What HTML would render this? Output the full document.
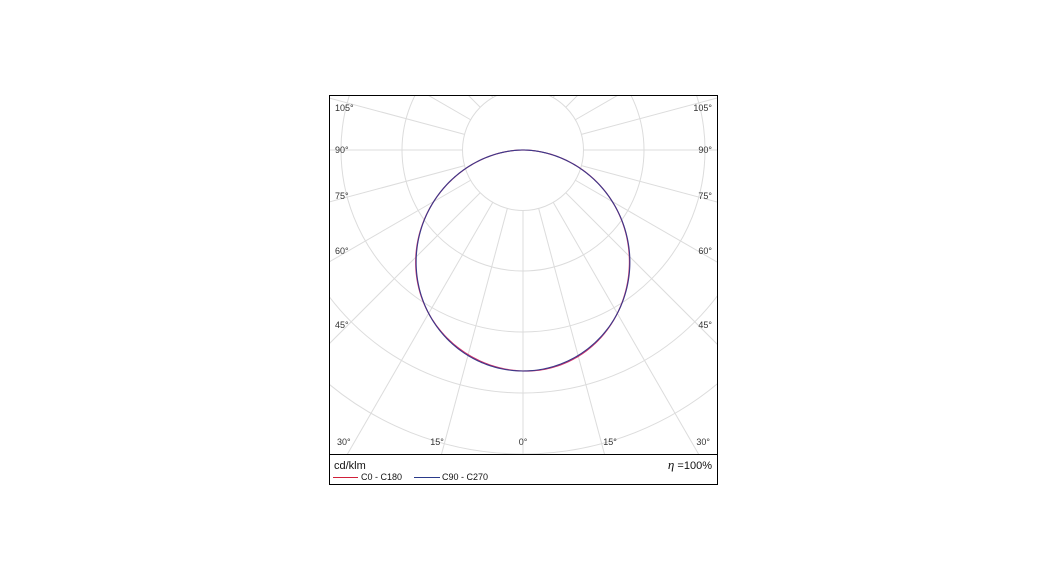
<!DOCTYPE html>
<html style="overflow:hidden"><head><style>
html,body{margin:0;background:#fff;width:1055px;height:588px;overflow:hidden;font-family:"Liberation Sans",sans-serif}
svg{display:block}
</style></head><body>
<svg width="1055" height="588" style="position:absolute;left:0;top:0" font-family="Liberation Sans, sans-serif">
<defs><clipPath id="c"><rect x="330" y="96" width="388" height="358"/></clipPath></defs>
<g clip-path="url(#c)" stroke="#dcdcdc" fill="none" stroke-width="1">
<circle cx="523" cy="150" r="60.5"/>
<circle cx="523" cy="150" r="121"/>
<circle cx="523" cy="150" r="182"/>
<circle cx="523" cy="150" r="243"/>
<circle cx="523" cy="150" r="304"/>
<circle cx="523" cy="150" r="365"/>
<g id="rays"></g>
</g>
<g id="lbl" font-size="9" fill="#333"></g>
<path id="cv1" fill="none" stroke="#d0306a" stroke-width="1.2" clip-path="url(#c)"/>
<path id="cv2" fill="none" stroke="#3a3a8a" stroke-width="1.1" clip-path="url(#c)"/>
<rect x="329.5" y="95.5" width="388" height="389" fill="none" stroke="#000"/>
<line x1="329" y1="454.5" x2="718" y2="454.5" stroke="#000"/>
<text x="334" y="469" font-size="11" fill="#111">cd/klm</text>
<line x1="333" y1="477.5" x2="358" y2="477.5" stroke="#d0203a"/>
<text x="361" y="480" font-size="9" fill="#111">C0 - C180</text>
<line x1="414" y1="477.5" x2="440" y2="477.5" stroke="#2a3a8a"/>
<text x="442" y="480" font-size="9" fill="#111">C90 - C270</text>
<text x="712" y="469" font-size="11" fill="#111" text-anchor="end"><tspan font-style="italic" font-family="Liberation Serif, serif" font-size="13">η</tspan> =100%</text>
</svg>
<script>
var ns="http://www.w3.org/2000/svg",cx=523,cy=150;
var rays=document.getElementById('rays');
for(var a=-180;a<180;a+=15){var t=a*Math.PI/180;var l=document.createElementNS(ns,'line');
l.setAttribute('x1',cx+60.5*Math.sin(t));l.setAttribute('y1',cy+60.5*Math.cos(t));
l.setAttribute('x2',cx+600*Math.sin(t));l.setAttribute('y2',cy+600*Math.cos(t));rays.appendChild(l);}
var L=[["105°",108],["90°",150],["75°",196],["60°",251],["45°",325]];
var g=document.getElementById('lbl');
function tx(s,x,y,an){var e=document.createElementNS(ns,'text');e.setAttribute('x',x);e.setAttribute('y',y+3);e.setAttribute('text-anchor',an);e.textContent=s;g.appendChild(e);}
L.forEach(function(p){tx(p[0],335,p[1],'start');tx(p[0],712,p[1],'end');});
tx("30°",337,442,'start');tx("15°",437,442,'middle');tx("0°",523,442,'middle');tx("15°",610,442,'middle');tx("30°",710,442,'end');
function curve(d){var s="";for(var a=-90;a<=90;a+=0.5){var t=a*Math.PI/180;var c=Math.cos(t);
var r=221*Math.pow(c,1.1)*(1+d*Math.sin(t*6)*0.004);
s+=(a==-90?"M":"L")+(cx+r*Math.sin(t)).toFixed(2)+","+(cy+r*Math.cos(t)).toFixed(2);}return s;}
document.getElementById('cv1').setAttribute('d',curve(1));
document.getElementById('cv2').setAttribute('d',curve(0));
</script>
</body></html>
